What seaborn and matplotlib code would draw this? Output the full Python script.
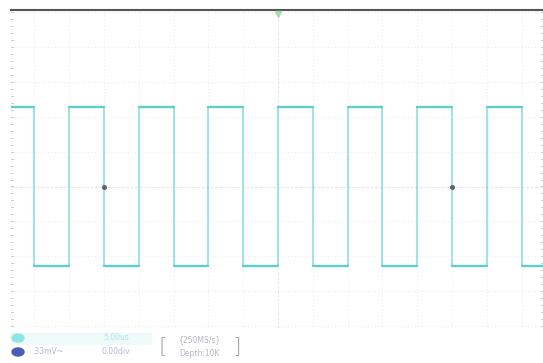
import numpy as np
import pandas as pd
import seaborn as sns
import matplotlib
matplotlib.use("Agg")
import matplotlib.pyplot as plt
from matplotlib.patches import Rectangle, Circle

# ---- data (in screen divisions) ----
edge_times = [-7.67, -7, -6, -5, -4, -3, -2, -1, 0, 1, 2, 3, 4, 5, 6, 7, 7.61]
edge_levels = [2.27, -2.27, 2.27, -2.27, 2.27, -2.27, 2.27, -2.27, 2.27,
               -2.27, 2.27, -2.27, 2.27, -2.27, 2.27, -2.27, -2.27]
marker_times = [-5, 5]
status_row1 = ["5.00us"]
status_row2 = [".33mV~", "0.00div"]
box_text = ["{250MS/s}", "Depth:10K"]

W, H = 543, 363
fig = plt.figure(figsize=(W / 100, H / 100), dpi=100)
sns.set_style("white")
plt.rcParams['font.family'] = ['DejaVu Sans']

left, right, top, bottom = 11, 543, 10, 363
ax = fig.add_axes([left / W, 1 - bottom / H, (right - left) / W, (bottom - top) / H])
ax.set_xlim(-7.67, 7.61)
ax.set_ylim(-5.07, 5.07)

# grid
for gx in np.arange(-7, 8, 1):
    ax.axvline(gx, color="#ececec", lw=0.8, ls=(0, (1, 2)), zorder=0)
for gy in np.arange(-5, 6, 1):
    ax.axhline(gy, color="#ececec", lw=0.8, ls=(0, (1, 2)), zorder=0)
ax.axhline(0, color="#d4d4d4", lw=0.8, ls=(0, (1, 3)), zorder=0)
ax.axvline(0, color="#dadada", lw=0.8, ls=(0, (1, 3)), zorder=0)

df = pd.DataFrame({"t": edge_times, "v": edge_levels})
sns.lineplot(data=df, x="t", y="v", ax=ax, drawstyle="steps-post",
             estimator=None, sort=False, color="#8fe0dc", lw=1.2, zorder=3)
# emphasise the flat levels (drawn darker than the edges)
hi = df.copy()
hi["seg"] = range(len(hi))
segs = []
for i in range(len(edge_times) - 1):
    segs.append(pd.DataFrame({"t": [edge_times[i], edge_times[i + 1]],
                              "v": [edge_levels[i], edge_levels[i]], "seg": i}))
segdf = pd.concat(segs)
sns.lineplot(data=segdf, x="t", y="v", units="seg", ax=ax, estimator=None,
             sort=False, color="#5ccfcc", lw=1.7, zorder=4)

ax.scatter(marker_times, [0, 0], s=7, color="#666666", zorder=5)

# trigger marker
ax.plot([0], [4.95], marker="v", color="#a6e0a6", markersize=5, clip_on=False, zorder=5)

ax.set_xticks([])
ax.set_yticks([])
ax.set_xlabel("")
ax.set_ylabel("")
for s in ["left", "right", "bottom"]:
    ax.spines[s].set_visible(False)
ax.spines["top"].set_color("#555555")
ax.spines["top"].set_linewidth(1.5)

# edge tick marks
for yy in np.arange(-5, 5.01, 0.2):
    ax.plot([-7.67, -7.6], [yy, yy], color="#cccccc", lw=0.8, clip_on=False)
    ax.plot([7.54, 7.61], [yy, yy], color="#cccccc", lw=0.8, clip_on=False)

# status bar
fig.patches.append(Rectangle((0, 0), 1, 1 - 328 / H, transform=fig.transFigure,
                             color="white", zorder=10))
fig.patches.append(Rectangle((left / W, 1 - 344 / H), 140 / W, 11 / H,
                             transform=fig.transFigure, color="#eefafa", zorder=11))
fig.patches.append(Circle((18 / W, 1 - 338 / H), 6 / W, transform=fig.transFigure,
                          color="#8fe4e4", zorder=12))
fig.patches.append(Circle((18 / W, 1 - 352 / H), 6 / W, transform=fig.transFigure,
                          color="#4a5cb8", zorder=12))
fig.text(116 / W, 1 - 338 / H, status_row1[0], fontsize=5.5, color="#aee6e6",
         ha="center", va="center", zorder=13)
fig.text(32 / W, 1 - 352 / H, status_row2[0], fontsize=5.5, color="#b0b8d8",
         ha="left", va="center", zorder=13)
fig.text(116 / W, 1 - 352 / H, status_row2[1], fontsize=5.5, color="#b0b8d8",
         ha="center", va="center", zorder=13)
fig.text(199 / W, 1 - 340 / H, box_text[0], fontsize=5.5, color="#b8b8c8",
         ha="center", va="center", zorder=13)
fig.text(199 / W, 1 - 353 / H, box_text[1], fontsize=5.5, color="#b8b8c8",
         ha="center", va="center", zorder=13)
fig.text(163 / W, 1 - 346 / H, "[", fontsize=16, color="#a0a0a0", fontweight="light",
         ha="center", va="center", zorder=13)
fig.text(237 / W, 1 - 346 / H, "]", fontsize=16, color="#a0a0a0", fontweight="light",
         ha="center", va="center", zorder=13)

fig.savefig("out.png", dpi=100, facecolor="white")
